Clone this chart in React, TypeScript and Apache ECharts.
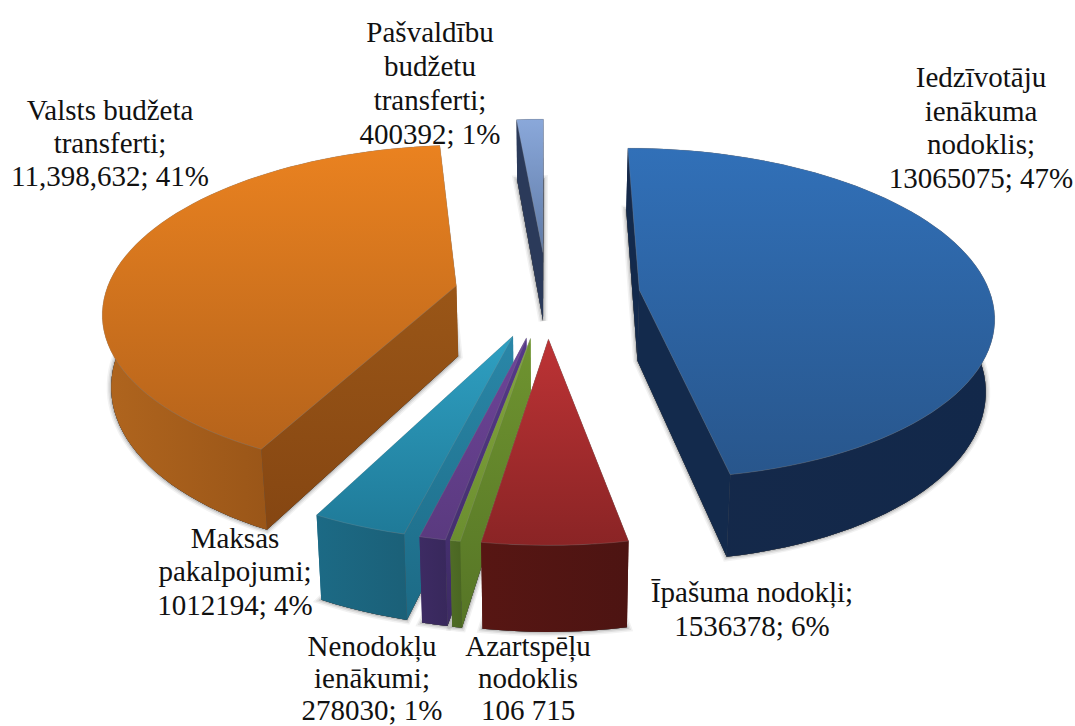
import React, { useEffect, useRef } from "react";
import * as echarts from "echarts";

const categories = [
  "Iedzīvotāju ienākuma nodoklis",
  "Īpašuma nodokļi",
  "Azartspēļu nodoklis",
  "Nenodokļu ienākumi",
  "Maksas pakalpojumi",
  "Valsts budžeta transferti",
  "Pašvaldību budžetu transferti",
];
const values = [13065075, 1536378, 106715, 278030, 1012194, 11398632, 400392];
const labelTexts = [
  "Iedzīvotāju\nienākuma\nnodoklis;\n13065075; 47%",
  "Īpašuma nodokļi;\n1536378; 6%",
  "Azartspēļu\nnodoklis\n106 715",
  "Nenodokļu\nienākumi;\n278030; 1%",
  "Maksas\npakalpojumi;\n1012194; 4%",
  "Valsts budžeta\ntransferti;\n11,398,632; 41%",
  "Pašvaldību\nbudžetu\ntransferti;\n400392; 1%",
];

// Layout and style, separate from the data
const labelCenters = [
  [981, 60],
  [752, 575],
  [528, 630],
  [372, 630],
  [235, 521],
  [110, 93],
  [430, 15],
];
const labelLineHeights = [33.7, 34, 32, 32, 33.5, 33.2, 34];
const drawOrder = [5, 6, 0, 4, 3, 2, 1];
const topColors = [
  ["#3170b8", "#28568c"],
  ["#bd3335", "#8a2425"],
  ["#84a63c", "#6b8e30"],
  ["#6e4499", "#5a3a7f"],
  ["#2fa0c2", "#1f7a98"],
  ["#ea8220", "#b5631b"],
  ["#8aa8da", "#5f7aa6"],
];
const rimColors = [
  ["#15294a", "#12284a"],
  ["#571613", "#4d1412"],
  ["#4f6c26", "#4a6622"],
  ["#3d2b63", "#38285c"],
  ["#1c6a85", "#1b6078"],
  ["#b0651e", "#834612"],
  ["#2a3a5c", "#2a3a5c"],
];
const radialColors = [
  ["#132a4c", "#132a4c"],
  ["#5a1815", "#5a1815"],
  ["#6f9430", "#567526"],
  ["#56398a", "#3d2b63"],
  ["#2a87a8", "#1c6a85"],
  ["#9a5617", "#854612"],
  ["#2b3a5a", "#2b3a5a"],
];
const shadowStrokes = [
  { width: 9, color: "rgba(0,0,0,0.05)" },
  { width: 6, color: "rgba(0,0,0,0.08)" },
  { width: 3, color: "rgba(0,0,0,0.12)" },
];

const CX = 547;
const CY = 294;
const SX = 351;
const SY = 163;
const PERSP = 0.142;
const EXPLODE = 0.265;
const DEPTH = 71;
const BOTTOM_SHRINK = 0.98;

const total = values.reduce((a, b) => a + b, 0);
const starts: number[] = [];
values.reduce((acc, v, i) => {
  starts[i] = acc;
  return acc + v;
}, 0);

function projectTop(X: number, Y: number): number[] {
  const w = 1 + PERSP * Y;
  return [CX + (SX * X) / w, CY - (SY * Y) / w];
}
function projectBottom(X: number, Y: number): number[] {
  const w = 1 + PERSP * Y;
  const p = projectTop(X, Y);
  return [CX + (p[0] - CX) * BOTTOM_SHRINK, p[1] + DEPTH / w];
}
function meanY(pts: number[][]): number {
  return pts.reduce((s, p) => s + p[1], 0) / pts.length;
}
function grad(c: string[], horizontal = false) {
  return new echarts.graphic.LinearGradient(0, 0, horizontal ? 1 : 0, horizontal ? 0 : 1, [
    { offset: 0, color: c[0] },
    { offset: 1, color: c[1] },
  ]);
}

function renderSlice(params: any, api: any) {
  const i = api.value(0);
  const v = api.value(1);
  const a0 = (starts[i] / total) * Math.PI * 2;
  const a1 = ((starts[i] + v) / total) * Math.PI * 2;
  const mid = (a0 + a1) / 2;
  const ox = EXPLODE * Math.sin(mid);
  const oy = EXPLODE * Math.cos(mid);
  const steps = Math.max(4, Math.round(((a1 - a0) / (Math.PI * 2)) * 160));
  const world: number[][] = [];
  for (let s = 0; s <= steps; s++) {
    const t = a0 + ((a1 - a0) * s) / steps;
    world.push([ox + Math.sin(t), oy + Math.cos(t)]);
  }
  const apexTop = projectTop(ox, oy);
  const apexBot = projectBottom(ox, oy);
  const rimTop = world.map((p) => projectTop(p[0], p[1]));
  const rimBot = world.map((p) => projectBottom(p[0], p[1]));

  const wallA = [apexTop, rimTop[0], rimBot[0], apexBot];
  const wallB = [apexTop, rimTop[steps], rimBot[steps], apexBot];
  const wallRim = [...rimTop, ...rimBot.slice().reverse()];

  const walls = [
    { pts: wallA, fill: grad(radialColors[i]) as any },
    { pts: wallB, fill: grad(radialColors[i]) as any },
    { pts: wallRim, fill: grad(rimColors[i], true) as any },
  ].sort((a, b) => meanY(a.pts) - meanY(b.pts));

  const children: any[] = shadowStrokes.map((s) => ({
    type: "polygon",
    shape: { points: [apexBot, ...rimBot] },
    style: { fill: "#555555", stroke: s.color, lineWidth: s.width },
  }));
  walls.forEach((w) => {
    children.push({
      type: "polygon",
      shape: { points: w.pts },
      style: { fill: w.fill },
    });
  });
  children.push({
    type: "polygon",
    shape: { points: [apexTop, ...rimTop] },
    style: { fill: grad(topColors[i]), stroke: "rgba(150,150,150,0.35)", lineWidth: 0.7 },
  });
  return { type: "group", children };
}

export default function App() {
  const ref = useRef<HTMLDivElement>(null);
  useEffect(() => {
    document.body.style.margin = "0";
    document.body.style.background = "#ffffff";
    const chart = echarts.init(ref.current!, undefined, { renderer: "svg" });
    chart.setOption({
      animation: false,
      backgroundColor: "#ffffff",
      series: [
        {
          type: "custom",
          coordinateSystem: "none",
          silent: true,
          renderItem: renderSlice,
          data: drawOrder.map((i) => ({ name: categories[i], value: [i, values[i]] })),
        },
      ],
      graphic: labelTexts.map((text, i) => ({
        type: "text",
        x: labelCenters[i][0],
        y: labelCenters[i][1],
        z: 20,
        silent: true,
        style: {
          text,
          fill: "#111111",
          font: '29px "Liberation Serif"',
          textAlign: "center",
          textVerticalAlign: "top",
          lineHeight: labelLineHeights[i],
        },
      })),
    });
    return () => chart.dispose();
  }, []);
  return <div ref={ref} style={{ width: 1075, height: 726 }} />;
}
